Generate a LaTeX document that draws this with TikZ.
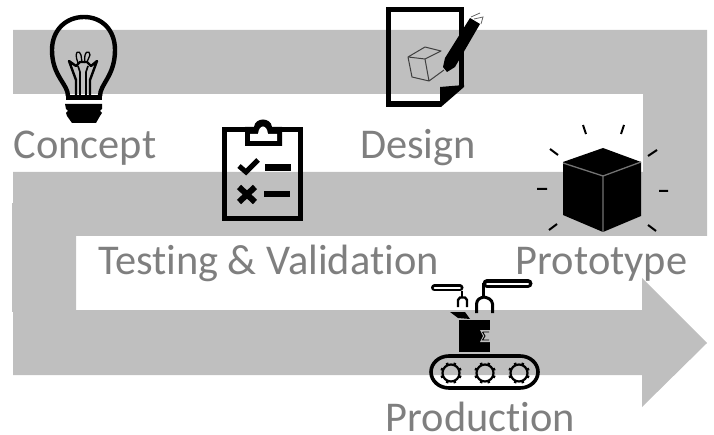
\documentclass[tikz,border=0pt]{standalone}
\usepackage{fontspec}
\setmainfont[Ligatures=NoCommon]{Carlito}
\definecolor{band}{RGB}{191,191,191}
\definecolor{lab}{RGB}{127,127,127}
\tikzset{
  lbl/.style={text=lab,font=\fontsize{42.4}{42.4}\selectfont,inner sep=0pt,anchor=base},
  lin/.style={draw=black,line width=#1,fill=none},
  lin/.default=2pt,
  capsule/.style={line cap=round,line width=#1},
}
\begin{document}
\begin{tikzpicture}[x=1pt,y=-1pt]
\useasboundingbox (0,0) rectangle (714,435);
% band
\fill[band] (13,30) -- (707,30) -- (707,236) -- (76,236) -- (76,310) -- (642,310) -- (642,278) -- (707,343) -- (642,407) -- (642,375) -- (13,375) -- (13,172) -- (643,172) -- (643,94) -- (13,94) -- cycle;
\fill[band] (12,203) rectangle (13.5,312);
% labels
\node[lbl] (concept) at (85,158.5) {Concept};
\node[lbl] (design) at (418,158.5) {Design};
\node[lbl] (testing) at (268.5,274.5) {Testing \& Validation};
\node[lbl] (prototype) at (601.5,274.5) {Prototype};
\node[lbl] (production) at (480.5,431.5) {Production};
% bulb
\draw[lin=4.4pt] (68,96) .. controls (68,84) and (52,76) .. (52,50) .. controls (52,30) and (66,17) .. (84,17) .. controls (102,17) and (115,30) .. (115,50) .. controls (115,76) and (100,84) .. (100,96);
\draw[lin=2.4pt,line join=round] (76,96) -- (76,80) -- (69,61) -- (76,66) -- (80,62) -- (87,62) -- (91,66) -- (97,61) -- (90,80) -- (90,96);
\draw[lin=1.6pt] (80,96) -- (80,72) -- (78,66) (86,96) -- (86,72) -- (88,66);
\draw[lin=1.3pt] (78,63) .. controls (73,50) and (80,50) .. (81,55) -- (82,62) (85,63) .. controls (83,50) and (90,50) .. (90,55) -- (87,62);
\fill[black] (66,95) rectangle (102,100);
\fill[black] (65,104) -- (102,104) -- (102,109) -- (100,111) -- (102,113) -- (100,116) -- (96,123) -- (72,123) -- (67,116) -- (66,113) -- (68,111) -- (66,109) -- cycle;
% document
\draw[lin=5.5pt,line join=miter] (441,104.5) -- (388.7,104.5) -- (388.7,9.5) -- (461.7,9.5) -- (461.7,87);
\fill[black] (386,101) rectangle (441,107);
\fill[black] (440,87) -- (464,85) -- (464,87) -- (441,107) -- (440,107) -- cycle;
\fill[black] (443,67) -- (447,72) -- (455,67) -- (480,24) -- (470,18) -- (445,58) -- cycle;
\draw[black!60,line width=.8pt] (471,17) -- (480,13) (474,19) -- (483,17) -- (481,24);
\draw[black!75,line width=1pt,line join=round] (408,57) -- (425,47) -- (441,51) -- (425,59) -- cycle (408,57) -- (412,77) -- (429,81) -- (425,59) (429,81) -- (444,70);
% clipboard
\draw[lin=5pt] (248,129.5) -- (224.5,129.5) -- (224.5,218.5) -- (300.5,218.5) -- (300.5,129.5) -- (279,129.5);
\fill[black] (245,127) -- (254,127) .. controls (255,117) and (271,117) .. (272,127) -- (282,127) -- (282,146) -- (245,146) -- cycle;
\fill[white] (250,134) -- (258,134) .. controls (259,124) and (267,124) .. (268,134) -- (277,134) -- (277,141) -- (250,141) -- cycle;
\draw[lin=5pt] (239,166) -- (246,172) -- (258,160);
\fill[black] (265,164) rectangle (291,171);
\draw[lin=6pt] (239,187) -- (255,202) (255,187) -- (239,202);
\fill[black] (264,191) rectangle (290,197);
% cube
\fill[black] (563,162) -- (603,148) -- (641,162) -- (641,216) -- (603,232) -- (563,215) -- cycle;
\draw[black!55,line width=1.3pt] (563,163) -- (603,176) -- (641,162) (603,176) -- (603,232);
\draw[black,line width=2pt]
 (583,125) -- (586,134) (624,125) -- (621,134)
 (550,149) -- (558,155) (657,150) -- (648,156)
 (537,189) -- (547,189) (659,191) -- (668,191)
 (549,230) -- (557,224) (656,231) -- (648,225);
% factory
\draw[black,capsule=7pt] (434.5,288) -- (460,288);
\draw[white,capsule=1.8pt] (434.5,288) -- (460,288);
\draw[black,capsule=9pt] (487,283.5) -- (528,283.5);
\draw[white,capsule=2pt] (487,284.5) -- (528,284.5);
\draw[lin=3pt] (483,283) -- (483,298);
\draw[lin=2pt] (462,291) -- (462,297);
\draw[lin=2.4pt] (458,307) -- (458,300) -- (460,297.5) -- (465,297.5) -- (467,300) -- (467,307);
\draw[lin=3pt] (476.5,313) -- (476.5,304) .. controls (477,299) and (480,298) .. (484,297) .. controls (488,298) and (492,299) .. (492.5,304) -- (492.5,313);
\fill[black] (459,320) rectangle (490,352);
\fill[black] (450,312) -- (465,312) -- (470,319) -- (458,318) -- cycle;
\fill[band] (490,330) -- (480,330) -- (483,336) -- (480,342) -- (490,342) -- cycle;
\draw[black,line width=.9pt] (482.5,332) -- (489,332) (482.5,332) -- (485,336) -- (482.5,340) -- (489,340);
\draw[lin=3.6pt] (449,356) -- (520,356) arc[start angle=-90,end angle=90,x radius=18,y radius=16] -- (449,388) arc[start angle=90,end angle=270,x radius=18,y radius=16] -- cycle;
\foreach \x in {451,485,519}{
  \draw[lin=2.2pt] (\x,373) circle[radius=8.5];
  \foreach \a in {22.5,67.5,...,337.5}{\draw[black,line width=2.6pt] (\x,373) ++(\a:8.5) -- ++(\a:2.4);}
}
\end{tikzpicture}
\end{document}
